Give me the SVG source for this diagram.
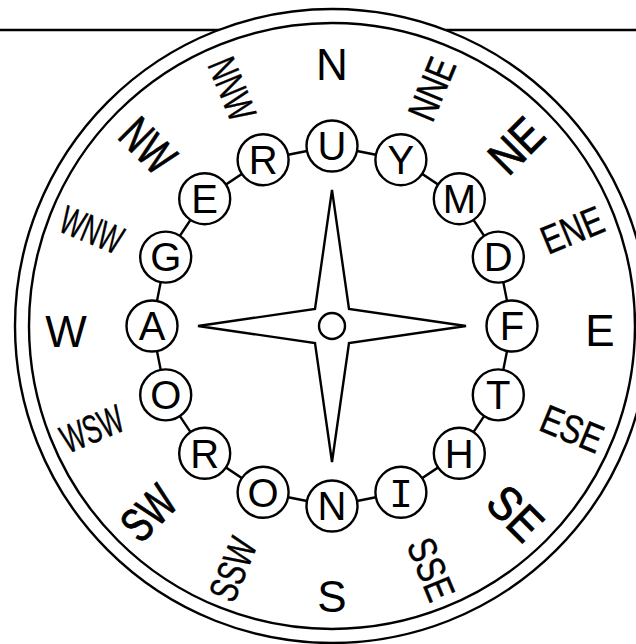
<svg xmlns="http://www.w3.org/2000/svg" width="636" height="644" viewBox="0 0 636 644">
<style>
.ln{stroke:#000;stroke-width:2.4;fill:none}
.rim{stroke:#000;stroke-width:2.4;fill:#fff}
.nd{stroke:#000;stroke-width:2.4;fill:#fff}
text{font-family:"Liberation Sans",Arial,Helvetica,sans-serif;fill:#000;text-anchor:middle}
.lt{font-size:40px}
.card{font-size:44px}
.ic{font-size:48px;stroke:#000;stroke-width:0.9}
.sec{font-size:40px;stroke:#000;stroke-width:0.4}
</style>
<rect x="0" y="0" width="636" height="644" fill="#fff"/>
<line class="ln" x1="0" y1="30" x2="636" y2="30"/>
<circle class="rim" cx="332" cy="326" r="317"/>
<circle class="ln" cx="332" cy="326" r="303"/>
<g id="star">
<path class="ln" d="M332,190 L349,309 L466,326 L349,343 L332,462 L315,343 L198,326 L315,309 Z"/>
<circle class="ln" cx="332" cy="326" r="13"/>
</g>
<g id="connectors">
<polygon class="ln" points="332,146 400.9,159.7 459.3,198.7 498.3,257.1 512,326 498.3,394.9 459.3,453.3 400.9,492.3 332,506 263.1,492.3 204.7,453.3 165.7,394.9 152,326 165.7,257.1 204.7,198.7 263.1,159.7"/>
</g>
<g id="n-U"><circle class="nd" cx="332" cy="146" r="25.5"/><text class="lt" x="332" y="160.3">U</text></g>
<g id="n-Y"><circle class="nd" cx="400.9" cy="159.7" r="25.5"/><text class="lt" x="400.9" y="174">Y</text></g>
<g id="n-M"><circle class="nd" cx="459.3" cy="198.7" r="25.5"/><text class="lt" x="459.3" y="213">M</text></g>
<g id="n-D"><circle class="nd" cx="498.3" cy="257.1" r="25.5"/><text class="lt" x="498.3" y="271.4">D</text></g>
<g id="n-F"><circle class="nd" cx="512" cy="326" r="25.5"/><text class="lt" x="512" y="340.3">F</text></g>
<g id="n-T"><circle class="nd" cx="498.3" cy="394.9" r="25.5"/><text class="lt" x="498.3" y="409.2">T</text></g>
<g id="n-H"><circle class="nd" cx="459.3" cy="453.3" r="25.5"/><text class="lt" x="459.3" y="467.6">H</text></g>
<g id="n-I"><circle class="nd" cx="400.9" cy="492.3" r="25.5"/><text class="lt" x="400.9" y="506.6" style="font-family:'Liberation Mono','DejaVu Sans Mono',monospace">I</text></g>
<g id="n-N"><circle class="nd" cx="332" cy="506" r="25.5"/><text class="lt" x="332" y="520.3">N</text></g>
<g id="n-O1"><circle class="nd" cx="263.1" cy="492.3" r="25.5"/><text class="lt" x="263.1" y="506.6">O</text></g>
<g id="n-R1"><circle class="nd" cx="204.7" cy="453.3" r="25.5"/><text class="lt" x="204.7" y="467.6">R</text></g>
<g id="n-O2"><circle class="nd" cx="165.7" cy="394.9" r="25.5"/><text class="lt" x="165.7" y="409.2">O</text></g>
<g id="n-A"><circle class="nd" cx="152" cy="326" r="25.5"/><text class="lt" x="152" y="340.3">A</text></g>
<g id="n-G"><circle class="nd" cx="165.7" cy="257.1" r="25.5"/><text class="lt" x="165.7" y="271.4">G</text></g>
<g id="n-E"><circle class="nd" cx="204.7" cy="198.7" r="25.5"/><text class="lt" x="204.7" y="213">E</text></g>
<g id="n-R2"><circle class="nd" cx="263.1" cy="159.7" r="25.5"/><text class="lt" x="263.1" y="174">R</text></g>
<g id="labels">
<text class="card" x="332" y="80">N</text>
<text class="card" x="600" y="346">E</text>
<text class="card" x="332" y="612">S</text>
<text class="card" x="66" y="347">W</text>
<text class="ic" transform="translate(515.8,145.2) rotate(-45)" y="17.2" textLength="56" lengthAdjust="spacingAndGlyphs">NE</text>
<text class="ic" transform="translate(515.8,512.8) rotate(45)" y="17.2" textLength="56" lengthAdjust="spacingAndGlyphs">SE</text>
<text class="ic" transform="translate(148.2,512.8) rotate(-45)" y="17.2" textLength="56" lengthAdjust="spacingAndGlyphs">SW</text>
<text class="ic" transform="translate(148.2,145.2) rotate(45)" y="17.2" textLength="56" lengthAdjust="spacingAndGlyphs">NW</text>
<text class="sec" transform="translate(431.5,88.8) rotate(-67.5)" y="14.3" textLength="64" lengthAdjust="spacingAndGlyphs">NNE</text>
<text class="sec" transform="translate(572.2,229.5) rotate(-22.5)" y="14.3" textLength="64" lengthAdjust="spacingAndGlyphs">ENE</text>
<text class="sec" transform="translate(572.2,428.5) rotate(22.5)" y="14.3" textLength="64" lengthAdjust="spacingAndGlyphs">ESE</text>
<text class="sec" transform="translate(431.5,569.2) rotate(67.5)" y="14.3" textLength="64" lengthAdjust="spacingAndGlyphs">SSE</text>
<text class="sec" transform="translate(232.5,569.2) rotate(-67.5)" y="14.3" textLength="64" lengthAdjust="spacingAndGlyphs">SSW</text>
<text class="sec" transform="translate(91.8,428.5) rotate(-22.5)" y="14.3" textLength="64" lengthAdjust="spacingAndGlyphs">WSW</text>
<text class="sec" transform="translate(91.8,229.5) rotate(22.5)" y="14.3" textLength="64" lengthAdjust="spacingAndGlyphs">WNW</text>
<text class="sec" transform="translate(232.5,88.8) rotate(67.5)" y="14.3" textLength="64" lengthAdjust="spacingAndGlyphs">NNW</text>
</g>
</svg>
